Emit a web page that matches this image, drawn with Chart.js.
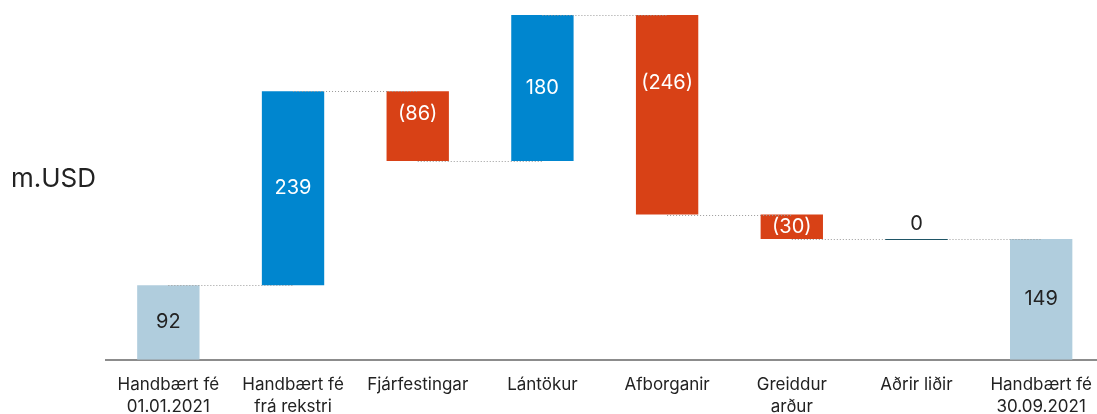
<!DOCTYPE html>
<html>
<head>
<meta charset="utf-8">
<script src="https://cdn.jsdelivr.net/npm/chart.js@4"></script>
<style>
  html, body { margin: 0; padding: 0; background: #fff; overflow: hidden; }
  #wrap { position: relative; width: 1097px; height: 414px; overflow: hidden; }
  #unit { position: absolute; left: 11px; top: 165px; font-family: Inter, "Noto Sans", sans-serif; font-size: 26px; color: #222; line-height: 1; }
  canvas { display: block; }
</style>
</head>
<body>
<div id="wrap">
  <canvas id="c" width="1106" height="432"></canvas>
  <div id="unit">m.USD</div>
</div>
<script>
// ---- data ----
const categories = [
  ["Handbært fé", "01.01.2021"],
  ["Handbært fé", "frá rekstri"],
  "Fjárfestingar",
  "Lántökur",
  "Afborganir",
  ["Greiddur", "arður"],
  "Aðrir liðir",
  ["Handbært fé", "30.09.2021"]
];
const values = [92, 239, -86, 180, -246, -30, 0, 149];
const kinds = ["total", "delta", "delta", "delta", "delta", "delta", "delta", "total"];
const valueLabels = ["92", "239", "(86)", "180", "(246)", "(30)", "0", "149"];

// ---- styles ----
const colTotal = "#b0cddd", colUp = "#0086cf", colDown = "#d84116", colZero = "#1f5566";
const labelShift = [0, 0, -12, 0, -32, 0, 0, 0];

// build floating ranges
const ranges = [];
let run = 0;
values.forEach((v, i) => {
  if (kinds[i] === "total") { ranges.push([0, v]); run = v; }
  else { ranges.push([run, run + v]); run += v; }
});
const colors = values.map((v, i) => kinds[i] === "total" ? colTotal : (v > 0 ? colUp : (v < 0 ? colDown : colZero)));

const FONT = 'Inter, "Noto Sans", sans-serif';

const extras = {
  id: "extras",
  afterDatasetsDraw(chart) {
    const ctx = chart.ctx;
    const meta = chart.getDatasetMeta(0);
    const y = chart.scales.y;
    ctx.save();
    // connectors
    ctx.strokeStyle = "#9a9a9a";
    ctx.lineWidth = 1;
    ctx.setLineDash([1, 2]);
    for (let i = 0; i < meta.data.length - 1; i++) {
      const lvl = ranges[i][1];
      const yy = Math.round(y.getPixelForValue(lvl)) + 0.5;
      ctx.beginPath();
      ctx.moveTo(meta.data[i].x, yy);
      ctx.lineTo(meta.data[i + 1].x, yy);
      ctx.stroke();
    }
    ctx.setLineDash([]);
    // zero bars as thin line
    meta.data.forEach((b, i) => {
      if (values[i] === 0 && kinds[i] !== "total") {
        const yy = Math.round(y.getPixelForValue(ranges[i][1])) + 0.5;
        ctx.strokeStyle = colZero;
        ctx.lineWidth = 1;
        ctx.beginPath();
        ctx.moveTo(b.x - b.width / 2, yy);
        ctx.lineTo(b.x + b.width / 2, yy);
        ctx.stroke();
      }
    });
    // value labels
    ctx.font = "20px " + FONT;
    ctx.textAlign = "center";
    ctx.textBaseline = "middle";
    meta.data.forEach((b, i) => {
      const lo = Math.min(...ranges[i]), hi = Math.max(...ranges[i]);
      let ty;
      if (values[i] === 0 && kinds[i] !== "total") {
        ty = y.getPixelForValue(hi) - 15;
        ctx.fillStyle = "#222";
      } else {
        ty = (y.getPixelForValue(lo) + y.getPixelForValue(hi)) / 2 + labelShift[i];
        ctx.fillStyle = kinds[i] === "total" ? "#222" : "#fff";
      }
      ctx.fillText(valueLabels[i], b.x, ty);
    });
    ctx.restore();
  }
};

new Chart(document.getElementById("c"), {
  type: "bar",
  data: {
    labels: categories,
    datasets: [{
      data: ranges.map(r => (r[0] === r[1] ? null : r)),
      backgroundColor: colors,
      borderWidth: 0,
      barPercentage: 0.5,
      categoryPercentage: 1.0
    }]
  },
  options: {
    responsive: false,
    animation: false,
    events: [],
    layout: { padding: { left: 106, right: 1, top: 15, bottom: 0 } },
    plugins: { legend: { display: false }, tooltip: { enabled: false } },
    scales: {
      x: {
        grid: { display: false, drawTicks: false },
        border: { display: true, color: "#8c8c8c", width: 2 },
        ticks: { color: "#222", font: { family: FONT, size: 17, lineHeight: 1.3 }, padding: 14, maxRotation: 0, autoSkip: false }
      },
      y: {
        display: false,
        min: 0,
        max: 425
      }
    }
  },
  plugins: [extras]
});
</script>
</body>
</html>
